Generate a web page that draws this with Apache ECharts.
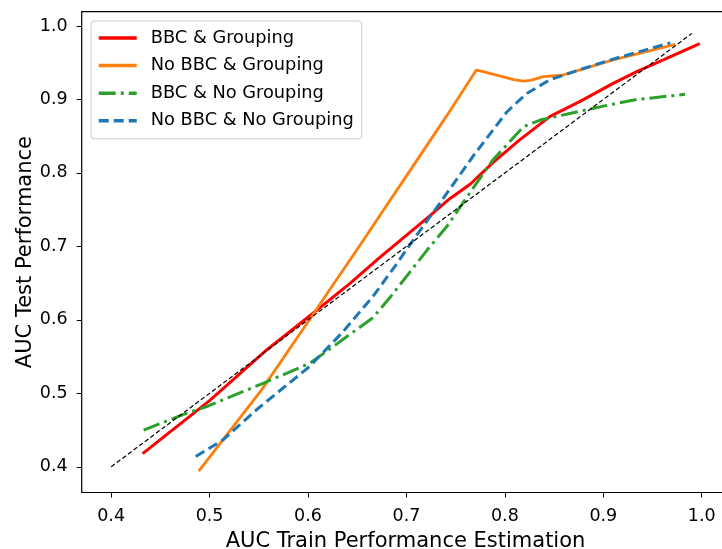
<!DOCTYPE html>
<html>
<head>
<meta charset="utf-8">
<script src="https://cdn.jsdelivr.net/npm/echarts@6/dist/echarts.min.js"></script>
<style>
  html, body { margin: 0; padding: 0; background: #fff; }
  #chart { width: 722px; height: 549px; }
</style>
</head>
<body>
<div id="chart"></div>
<script>
// values
const seriesNames = ['BBC & Grouping', 'No BBC & Grouping', 'BBC & No Grouping', 'No BBC & No Grouping']

const redX = [0.432, 0.5, 0.558, 0.607, 0.643, 0.673, 0.724, 0.744, 0.765, 0.787, 0.815, 0.846, 0.876, 0.91, 0.934, 0.998]
const redY = [0.418, 0.49, 0.559, 0.611, 0.65, 0.685, 0.742, 0.765, 0.785, 0.813, 0.845, 0.877, 0.897, 0.922, 0.938, 0.976]

const orangeX = [0.489, 0.553, 0.607, 0.6225, 0.653, 0.673, 0.707, 0.741, 0.771, 0.778, 0.809, 0.819, 0.826, 0.839, 0.858, 0.91, 0.973]
const orangeY = [0.394, 0.505, 0.611, 0.642, 0.702, 0.742, 0.81, 0.878, 0.94, 0.938, 0.927, 0.925, 0.926, 0.931, 0.933, 0.954, 0.975]

const greenX = [0.433, 0.473, 0.497, 0.555, 0.602, 0.629, 0.666, 0.683, 0.721, 0.741, 0.765, 0.788, 0.819, 0.836, 0.866, 0.9, 0.934, 0.983]
const greenY = [0.45, 0.471, 0.482, 0.514, 0.541, 0.567, 0.603, 0.63, 0.695, 0.727, 0.774, 0.818, 0.863, 0.872, 0.881, 0.891, 0.9, 0.907]

const blueX = [0.486, 0.514, 0.548, 0.602, 0.635, 0.666, 0.69, 0.707, 0.734, 0.77, 0.802, 0.822, 0.846, 0.875, 0.91, 0.968]
const blueY = [0.414, 0.437, 0.478, 0.537, 0.583, 0.632, 0.676, 0.709, 0.759, 0.827, 0.883, 0.908, 0.927, 0.94, 0.955, 0.977]

const diagX = [0.4, 0.99]
const diagY = [0.4, 0.99]

const tickValues = [0.4, 0.5, 0.6, 0.7, 0.8, 0.9, 1.0]

const font = 'DejaVu Sans'

function pairs(xs, ys) {
  return xs.map((x, i) => [x, ys[i]])
}

function lineSeries(name, xs, ys, color, width, type) {
  return {
    name: name,
    type: 'line',
    data: pairs(xs, ys),
    showSymbol: false,
    symbol: 'none',
    smooth: false,
    silent: true,
    lineStyle: { color: color, width: width, type: type, cap: 'butt' },
    itemStyle: { color: color }
  }
}

function valueAxis(min, max, name, nameGap, extra) {
  return Object.assign({
    type: 'value',
    min: min,
    max: max,
    name: name,
    nameLocation: 'middle',
    nameGap: nameGap,
    nameTextStyle: { fontFamily: font, fontSize: 21, color: '#000' },
    splitLine: { show: false },
    axisLine: { show: false },
    axisTick: {
      show: true,
      length: 5,
      customValues: tickValues,
      lineStyle: { color: '#000', width: 1 }
    },
    axisLabel: {
      customValues: tickValues,
      fontFamily: font,
      fontSize: 17.5,
      color: '#000',
      formatter: v => v.toFixed(1)
    }
  }, extra)
}

const chart = echarts.init(document.getElementById('chart'))
const xAxis = valueAxis(0.3701, 1.028, 'AUC Train Performance Estimation', 39, {})
xAxis.axisLabel.margin = 15
const yAxis = valueAxis(0.365, 1.0195, 'AUC Test Performance', 46, { nameRotate: 90, nameMoveOverlap: false })
yAxis.axisLabel.margin = 14

chart.setOption({
  animation: false,
  backgroundColor: '#fff',
  grid: {
    left: 81.7,
    top: 11.7,
    right: -7.3,
    bottom: 56.5,
    outerBoundsMode: 'none',
    containLabel: false,
    show: true,
    borderColor: '#000',
    borderWidth: 1.2,
    backgroundColor: 'transparent'
  },
  legend: {
    orient: 'vertical',
    left: 91,
    top: 21,
    data: seriesNames,
    itemWidth: 38,
    itemHeight: 14,
    itemGap: 9.6,
    padding: [8, 8, 9, 6],
    itemStyle: { opacity: 0 },
    lineStyle: { width: 3.5 },
    borderColor: '#cccccc',
    borderWidth: 1,
    borderRadius: 3,
    backgroundColor: 'rgba(255,255,255,0.8)',
    textStyle: { fontFamily: font, fontSize: 17.8, color: '#000', padding: [0, 0, 0, 9] }
  },
  xAxis: xAxis,
  yAxis: yAxis,
  series: [
    lineSeries(seriesNames[0], redX, redY, '#ff0000', 3, 'solid'),
    lineSeries(seriesNames[1], orangeX, orangeY, '#ff7f0e', 2.8, 'solid'),
    lineSeries(seriesNames[2], greenX, greenY, '#2ca02c', 3, [17, 5, 3, 5]),
    lineSeries(seriesNames[3], blueX, blueY, '#1f77b4', 3, [10, 5]),
    lineSeries('diagonal', diagX, diagY, '#000000', 1.2, [4.5, 2.5])
  ]
})
</script>
</body>
</html>
